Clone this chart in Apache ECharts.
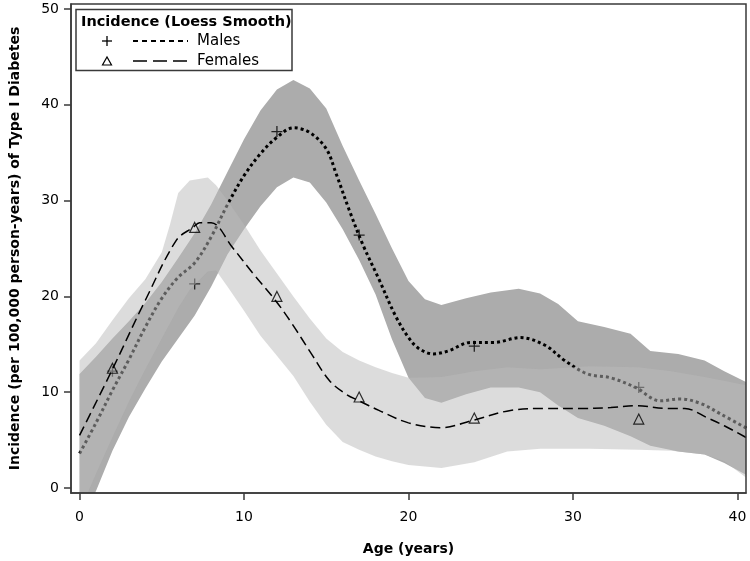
<!DOCTYPE html>
<html>
<head>
<meta charset="utf-8">
<script src="https://cdn.jsdelivr.net/npm/echarts@6/dist/echarts.min.js"></script>
<style>html,body{margin:0;padding:0;background:#fff}#c{width:750px;height:561px}</style>
</head>
<body>
<div id="c"></div>
<script>
// ---- data ----
const xTicks = [0, 10, 20, 30, 40];
const yTicks = [0, 10, 20, 30, 40, 50];

const maleObsX = [2, 7, 12, 17, 24, 34];
const maleObsY = [12.2, 21.3, 37.2, 26.4, 14.8, 10.5];
const femaleObsX = [2, 7, 12, 17, 24, 34];
const femaleObsY = [12.5, 27.2, 20.0, 9.5, 7.3, 7.2];

const maleCurveX = [0, 1, 2, 3, 4, 5, 6, 7, 8, 9, 10, 11, 12, 13, 14, 15, 15.6, 16.4, 17.2, 18.2, 19.2, 20, 20.6, 21.5, 22.4, 23.8, 25.2, 26.8, 28.3, 29.5, 30.9, 32.3, 33.8, 35.3, 36.5, 37.8, 39, 40.6];
const maleCurveY = [3.6, 6.8, 10.2, 13.4, 16.8, 19.8, 22.0, 23.5, 26.2, 29.6, 32.6, 34.9, 36.6, 37.6, 37.1, 35.4, 32.8, 29.0, 25.5, 21.8, 18.0, 15.7, 14.6, 14.0, 14.3, 15.2, 15.2, 15.7, 14.9, 13.3, 11.9, 11.5, 10.5, 9.1, 9.3, 8.8, 7.7, 6.2];

const femaleCurveX = [0, 2, 4, 5.9, 6.9, 7.3, 8, 9.3, 10.5, 11.9, 12.9, 14.1, 15.2, 16.2, 17, 18.2, 20, 22, 23.8, 26.2, 28.3, 30.3, 32.3, 33.8, 35.8, 36.8, 38.2, 39.2, 40.6];
const femaleCurveY = [5.5, 12.4, 19.6, 25.9, 27.2, 27.7, 27.7, 25.1, 22.5, 19.6, 17.2, 14.0, 11.2, 9.8, 9.1, 8.1, 6.8, 6.3, 7.0, 8.1, 8.3, 8.3, 8.4, 8.6, 8.3, 8.3, 7.3, 6.5, 5.2];

const maleBandX = [0, 1, 2, 3, 4, 5, 6, 7, 8, 9, 10, 11, 12, 13, 14, 15, 16, 17, 18, 19, 20, 21, 22, 23.5, 25, 26.7, 28, 29.1, 30.3, 31.9, 33.5, 34.7, 36.4, 38, 39.2, 40.6];
const maleBandUpper = [11.9, 13.7, 15.6, 17.4, 19.3, 21.5, 24.0, 26.6, 29.6, 33.0, 36.4, 39.4, 41.6, 42.6, 41.7, 39.6, 35.7, 32.1, 28.6, 25.0, 21.6, 19.7, 19.1, 19.8, 20.4, 20.8, 20.3, 19.2, 17.4, 16.8, 16.1, 14.3, 14.0, 13.3, 12.2, 11.0];
const maleBandLower = [-3.5, -0.3, 3.9, 7.4, 10.4, 13.2, 15.6, 18.0, 21.0, 24.4, 27.0, 29.4, 31.4, 32.4, 31.9, 29.8, 27.0, 23.8, 20.2, 15.5, 11.5, 9.4, 8.9, 9.8, 10.5, 10.5, 10.0, 8.6, 7.3, 6.5, 5.4, 4.4, 3.8, 3.5, 2.6, 1.3];

const femaleBandX = [0, 1, 2, 3, 4, 5, 5.5, 6, 6.7, 7.8, 8.3, 9, 10, 11, 12, 13, 14, 15, 16, 17, 18, 19, 20, 22, 24, 26, 28, 31, 34, 36, 38, 39.2, 40.6];
const femaleBandUpper = [13.3, 15.1, 17.5, 19.8, 21.8, 24.6, 27.5, 30.8, 32.1, 32.4, 31.6, 30.0, 27.5, 24.8, 22.4, 20.0, 17.7, 15.6, 14.2, 13.3, 12.6, 12.0, 11.5, 11.6, 12.2, 12.6, 12.4, 12.7, 12.6, 12.2, 11.6, 11.2, 10.7];
const femaleBandLower = [-2.5, 1.5, 5.3, 9.0, 12.4, 15.6, 17.2, 18.8, 20.7, 22.6, 22.7, 21.0, 18.5, 15.9, 13.8, 11.7, 9.0, 6.6, 4.8, 4.0, 3.3, 2.8, 2.4, 2.1, 2.7, 3.8, 4.1, 4.1, 4.0, 3.9, 3.5, 2.8, 1.0];

const xTitle = 'Age (years)';
const yTitle = 'Incidence (per 100,000 person-years) of Type I Diabetes';
const legendTitle = 'Incidence (Loess Smooth)';
const legendNames = ['Males', 'Females'];

// ---- chart ----
const FONT = 'DejaVu Sans';
const AX = '#3a3a3a';

function zip(xs, ys) { return xs.map((x, i) => [x, ys[i]]); }

function band(xs, lo, hi, fill, z) {
  return {
    type: 'custom', clip: true, silent: true, z: z,
    data: xs.map((x, i) => [x, lo[i], hi[i]]),
    encode: { x: 0, y: [1, 2] },
    renderItem: function (params, api) {
      if (params.dataIndex !== 0) return null;
      const pts = [];
      for (let i = 0; i < xs.length; i++) pts.push(api.coord([xs[i], hi[i]]));
      for (let i = xs.length - 1; i >= 0; i--) pts.push(api.coord([xs[i], lo[i]]));
      return { type: 'polygon', shape: { points: pts }, style: { fill: fill } };
    }
  };
}

const chart = echarts.init(document.getElementById('c'), null, { renderer: 'canvas' });
chart.setOption({
  animation: false,
  backgroundColor: '#fff',
  textStyle: { fontFamily: FONT },
  grid: { left: 71, right: 4, top: 4, bottom: 68, show: true, borderColor: AX, borderWidth: 1.5, backgroundColor: 'transparent', z: 20 },
  xAxis: {
    type: 'value', min: -0.52, max: 40.52, z: 20,
    axisLine: { show: true, onZero: false, lineStyle: { color: AX, width: 1.5 } },
    axisTick: { show: true, length: 7, lineStyle: { color: AX, width: 1.5 }, customValues: xTicks },
    axisLabel: { customValues: xTicks, color: '#000', fontSize: 14, fontFamily: FONT, margin: 17 },
    splitLine: { show: false },
    name: xTitle, nameLocation: 'middle', nameGap: 49,
    nameTextStyle: { color: '#000', fontSize: 14, fontWeight: 'bold', fontFamily: FONT }
  },
  yAxis: {
    type: 'value', min: -0.52, max: 50.52, z: 20,
    axisLine: { show: true, onZero: false, lineStyle: { color: AX, width: 1.5 } },
    axisTick: { show: true, length: 7, lineStyle: { color: AX, width: 1.5 }, customValues: yTicks },
    axisLabel: { customValues: yTicks, color: '#000', fontSize: 14, fontFamily: FONT, margin: 12 },
    splitLine: { show: false },
    name: yTitle, nameLocation: 'middle', nameGap: 49,
    nameTextStyle: { color: '#000', fontSize: 14, fontWeight: 'bold', fontFamily: FONT }
  },
  series: [
    band(maleBandX, maleBandLower, maleBandUpper, '#acacac', 1),
    {
      type: 'line', z: 2, data: zip(maleCurveX, maleCurveY), showSymbol: false, smooth: 0.35, silent: true,
      lineStyle: { color: '#000', width: 3, type: [3, 3], cap: 'butt' }
    },
    {
      type: 'scatter', z: 3, data: zip(maleObsX, maleObsY), silent: true,
      symbol: 'path://M0,5L10,5M5,0L5,10', symbolSize: 11,
      itemStyle: { color: 'rgba(0,0,0,0)', borderColor: '#000', borderWidth: 1.3 }
    },
    band(femaleBandX, femaleBandLower, femaleBandUpper, 'rgba(186,186,186,0.5)', 4),
    {
      type: 'line', z: 5, data: zip(femaleCurveX, femaleCurveY), showSymbol: false, smooth: 0.35, silent: true,
      lineStyle: { color: '#000', width: 1.5, type: [10, 5], cap: 'butt' }
    },
    {
      type: 'scatter', z: 6, data: zip(femaleObsX, femaleObsY), silent: true,
      symbol: 'triangle', symbolSize: 10,
      itemStyle: { color: 'rgba(0,0,0,0)', borderColor: '#000', borderWidth: 1.2 }
    }
  ],
  graphic: [
    { type: 'rect', z: 30, shape: { x: 76, y: 9.5, width: 216, height: 61 }, style: { fill: '#fff', stroke: AX, lineWidth: 1.5 } },
    { type: 'text', z: 31, x: 81, y: 22, style: { text: legendTitle, fill: '#000', font: 'bold 14.5px "DejaVu Sans"', verticalAlign: 'middle' } },
    { type: 'polyline', z: 31, shape: { points: [[102, 41], [112, 41]] }, style: { stroke: '#000', lineWidth: 1.3 } },
    { type: 'polyline', z: 31, shape: { points: [[107, 36], [107, 46]] }, style: { stroke: '#000', lineWidth: 1.3 } },
    { type: 'polyline', z: 31, shape: { points: [[133, 41], [188, 41]] }, style: { stroke: '#000', lineWidth: 1.8, lineDash: [5, 4] } },
    { type: 'text', z: 31, x: 197, y: 41, style: { text: legendNames[0], fill: '#000', font: '15px "DejaVu Sans"', verticalAlign: 'middle' } },
    { type: 'polygon', z: 31, shape: { points: [[102.5, 65], [111.5, 65], [107, 57]] }, style: { fill: 'none', stroke: '#000', lineWidth: 1.2 } },
    { type: 'polyline', z: 31, shape: { points: [[133, 61], [188, 61]] }, style: { stroke: '#000', lineWidth: 1.5, lineDash: [14, 6] } },
    { type: 'text', z: 31, x: 197, y: 61, style: { text: legendNames[1], fill: '#000', font: '15px "DejaVu Sans"', verticalAlign: 'middle' } }
  ]
});
</script>
</body>
</html>
